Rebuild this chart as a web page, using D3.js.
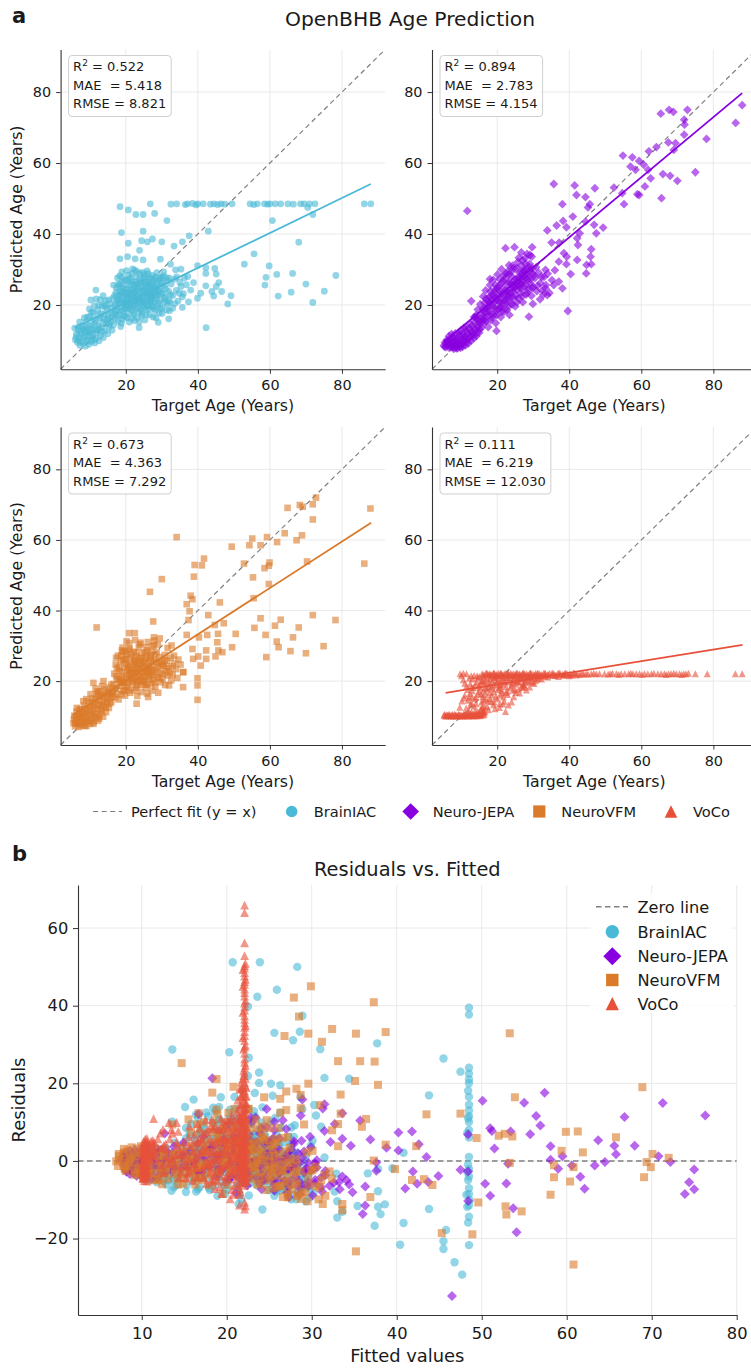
<!DOCTYPE html>
<html>
<head>
<meta charset="utf-8">
<script src="https://cdn.jsdelivr.net/npm/d3@7"></script>
<style>
body { margin: 0; background: #fff; }
svg text { font-family: "DejaVu Sans", sans-serif; fill: #1a1a1a; }
</style>
</head>
<body>
<svg id="fig" width="751" height="1368"></svg>
<script>
var modelNames = ["BrainIAC", "Neuro-JEPA", "NeuroVFM", "VoCo"];
var modelColors = ["#4ab9d6", "#8800e0", "#da7a2a", "#e8503a"];
var modelShapes = ["circle", "diamond", "square", "triangle"];

// [target age, predicted age]
var brainiac = [
  [18.4,47.7],[26.8,48.5],[32.5,48.4],[34.1,48.5],[36.5,48.3],[37.1,48.5],[38.5,48.6],[39.5,48.2],[40,48.5],[41.5,48.5],[43.5,48.4],[44.5,48.5],[45.5,48.3],[46.4,48.5],[47.5,48.4],[49.5,48.5],[54.5,48.5],[55.5,48.3],[56.5,48.5],[58.5,48.5],[59.4,48.4],[60,48.5],[61.5,48.5],[63,48.5],[65,48.5],[66.5,48.4],[68.5,48.5],[69.5,48.5],[71,48.5],[72.5,48.5],[86.2,48.5],[88,48.5],
  [20.7,46.8],[22.8,45.5],[24.8,45.5],[28,45.8],[31.4,43.8],[18.8,40.4],[24.8,40.8],[20.7,37.4],[24.4,38.1],[26,37.8],[27.4,38.6],[30,37.8],[23.8,35.4],[33.4,36.6],[35.7,37.8],[37.6,39.5],[42.9,40.8],[60.7,43.8],[70.5,47.5],[71.9,45.5],[68,37.7],[55.6,34.4],[52.9,31.5],[59.8,31],[58.9,27.8],[58.6,25.6],[61.9,28.6],[66.3,28.9],[62.3,22.5],[65.9,23.6],[70,25.9],[71.9,20.7],[75.1,23.9],[78.3,28.3],
  [39.9,31.1],[42.2,30.5],[42.2,28.9],[44.7,30.3],[45.1,28.7],[42.2,25.4],[45.8,26.3],[45.1,25.2],[43.9,23.8],[46.6,23.8],[44.4,22.5],[49.2,22.6],[48.3,20.3],[42.3,13.6],[39.9,21.9],[40.8,23.3],[38.8,26.3],[37.2,28],[35.3,30.1],[33.8,29.9],[32.4,31.5],[29.6,32.9],[22.6,33],[18.4,33],[20.5,33.6],[24.8,32.7],[35.3,25.2],[35.7,22.3],[35.7,19.3],[33,19.1],[31.9,16.1],[29,15.1],[23.7,13.6],[18.6,13.9],[11.7,24.2],[10.3,21.4]
];
var brainiacCluster = [
  [5.8,13.5],[6,10.2],[6.3,11.8],[6.6,9.4],[6.8,12.9],[7.1,10.8],[7.3,8.6],[7.6,11.9],[7.9,14.1],[8.1,9.2],[8.3,10.9],[8.6,12.6],[8.8,8.4],[9,15.3],[9.2,10.1],[9.4,13.2],[9.6,11.4],[9.8,8.9],[10,16.8],[10.1,12.3],[10.4,9.7],[10.6,14.4],[10.8,11.1],[11,17.9],[11.2,13],[11.4,9.3],[11.6,15.6],[11.8,10.6],[12,12.1],[12.2,18.6],[12.4,14.2],[12.6,9.9],[12.8,16.3],[13,11.4],[13.2,13.6],[13.4,19.7],[13.6,15.1],[13.8,10.8],[14,17.4],[14.2,12.7],[14.4,21.2],[14.6,14.6],[14.8,18.9],[15,11.9],[15.2,16.2],[15.4,13.8],[15.6,20.3],[15.8,15.4],[16,17.8],[16.2,12.9],[8.5,16.4],[7.2,15.2],[9.9,18.9],[12.9,21.5],[11.3,19.8],[13.7,22.6],[16.4,21.9],[16.6,14.4],
  [6.2,11],[6.9,10],[7.4,12.6],[7.8,9.8],[8.2,13.2],[8.7,11.3],[9.1,12.4],[9.5,10],[9.9,14.2],[10.3,11.8],[10.7,13.1],[11.1,10.2],[11.5,14.8],[11.9,12.8],[12.3,16.9],[12.7,13.4],[13.1,17.6],[13.5,12.5],[13.9,16],[14.3,19.4],[14.7,15.8],[15.1,17.2],[15.5,14.6],[15.9,19.2],[16.3,16.6],[9.3,16.6],[10.9,16.1],[12.5,19.9],[14.1,20.1],[15.3,21.4],[7,13.8],[8.9,13.7],[10.5,18],[11.8,21.7],
  [16.8,18.3],[16.9,22.7],[17.1,16.1],[17.2,20.4],[17.4,24.9],[17.5,18.8],[17.7,27.6],[17.8,15.4],[18,21.6],[18.1,19.2],[18.3,23.8],[18.4,17.1],[18.6,26.2],[18.7,20.7],[18.9,29.3],[19,15.9],[19.2,22.4],[19.3,18.2],[19.5,24.6],[19.6,20.1],[19.8,27.1],[19.9,16.8],[20,23.1],[20.2,19.4],[20.3,21.8],[20.5,25.7],[20.6,17.7],[20.8,28.4],[20.9,22.6],[21,15.2],[21.2,20.3],[21.3,24.2],[21.5,18.6],[21.6,26.8],[21.8,22.1],[21.9,30.2],[22,19.7],[22.2,23.7],[22.3,17.3],[22.5,25.3],[22.6,21.2],[22.8,27.9],[22.9,19],[23,23.2],[23.2,16.4],[23.3,21.7],[23.5,26.1],[23.6,24.3],[23.8,18.1],[23.9,28.8],[24,20.6],[24.2,22.9],[24.3,25.9],[24.5,17.6],[24.6,21.4],[24.8,24.1],[24.9,27.3],[25,19.3],[25.2,23.5],[25.3,15.8],[25.5,21.1],[25.6,26.4],[25.8,18.7],[25.9,29.6],[26,22.7],[26.2,24.9],[26.3,20.2],[26.5,27.7],[26.6,17.2],[26.8,23.1],[26.9,21.5],[27,25.6],[27.2,19.6],[27.3,28.3],[27.5,22.4],[27.6,16.6],[27.8,24.4],[27.9,20.9],[28,26.9],[28.2,18.4],[28.3,23.6],[28.5,21.7],[28.6,29.1],[28.8,25.2],[28.9,19.9],[29,22.9],[29.2,27.2],[29.3,17.8],[29.5,24.8],[29.6,21.3],[29.8,26.1],[30,19.1],[30.2,23.4],[30.4,28.2],[30.6,20.7],[30.8,25.4],[31,22.2],[31.3,18.6],[31.6,26.8],[31.9,23.8],[32.2,20.8],[32.6,25.9],[33,22.6],[33.5,27.3],[34,24.1],[34.5,21.1],[35,26.4],[36,23.2],[36.8,25.7],[38,24.2],[37.4,20.9],
  [19.4,21.3],[20.1,24.4],[20.7,20.9],[21.4,22.9],[22.1,25.8],[22.7,23.9],[23.4,20.4],[24.1,26.7],[24.7,19.8],[25.4,24.6],[26.1,21.9],[26.7,25.3],[27.4,23.3],[18.2,25.4],[19.1,27.8],[21.1,27.4],[23.1,29.4],[25.1,28.6],[27.1,27.2],[29.9,27.6],[17.6,22.2],[16.6,25.6],[18.8,14.9],[20.4,16.4],[22.4,15.6],[24.4,16.9],[26.4,18.9],[28.4,16.4],[30.1,17.6],[32.1,18.4],[33.6,20.4],[34.8,23.3],[36.2,27.6],[34.1,27.9],
  [17,19.9],[17.3,23.6],[17.6,17.1],[17.9,25.8],[18.2,20.6],[18.5,22.6],[18.8,18.5],[19.1,24.8],[19.4,26.6],[19.7,18.9],[20,21],[20.3,23.4],[20.6,27],[20.9,19.1],[21.2,25.6],[21.5,21.5],[21.8,24.4],[22.1,17.9],[22.4,20.4],[22.7,26.6],[23,24.8],[23.3,19.3],[23.6,22.1],[23.9,27.4],[24.2,18.6],[24.5,25],[24.8,22.3],[25.1,20.4],[25.4,27.9],[25.7,23],[26,19.8],[26.3,26.5],[26.6,24.2],[26.9,20.7],[27.2,22.6],[27.5,26.4],[27.8,18.9],[28.1,24.9],[28.4,22.5],[28.7,26.4],[29,20.6],[29.3,24],[29.6,27.8],[29.9,23.1],[30.3,26.2],[30.7,21.9],[31.1,24.5],[31.5,20.3],[32,27.6],[32.4,22.9],[16.9,17.4],[17.7,21.3],[18.6,23.1],[19.5,20.6],[20.4,22.6],[21.3,19.6],[22.2,22.8],[23.1,21.1],[24,23.8],[24.9,21.1],[25.8,25.6],[26.7,22.1],[27.6,25],[28.5,23.4],[21,23.6],[22,20.9],[23,25.9],[24,21.9],[25,26.3],[26,23.8],[27,21.2],[28,24.3],[19,23.7],[20,19.9],[21.7,28.8],[22.5,29.8],[24.6,29.2],[26.2,28.8],[28.2,27.9],[18.3,28.2],[20.2,29.7],[30.5,29.3],[31.3,27.6],[19.3,16.8],[21.7,16.2],[23.7,15.2],[25.7,17.3],[27.7,19.7],[29.5,19.1],[31.8,21.2]
];

var neuroJepa = [
  [11.7,46.5],[35.7,54.1],[41.5,53.7],[47.1,52.9],[42,51],[44.5,50.4],[38.1,48.4],[45.7,48.4],[52.4,53.1],[54.7,51.5],[55.2,48.4],[58.9,51.2],[59.4,51],[65.6,50.1],[70,55],[68,56.4],[66,56.9],[75,57.4],[54.9,62.1],[57.5,61.6],[59.4,60.6],[60.7,59.5],[57,59],[58.4,58.1],[61.9,58.1],[62.6,55.7],[62.1,63.3],[64.2,64.5],[67.5,65.8],[69.5,65.6],[69,63.7],[71.9,68],[72,70.8],[71.9,72.2],[65.4,73.9],[67.7,75],[68.9,74.4],[72.8,75],[78.1,66.8],[86.2,71.3],[88,76.3],[61,53.4],
  [33.9,41],[36.5,42.4],[38.3,43.7],[39.2,41.9],[41,44.9],[42.2,38.8],[42.9,40.2],[45.2,47.5],[44.5,43.5],[46.9,42.6],[47.5,40.2],[49.4,41.8],[35.1,37.6],[37.2,37.6],[42.4,36.9],[46.1,35.7],[45.9,33.6],[44.8,31.3],[46.1,31.5],[44.7,28.9],[42.2,32.7],[40.4,28.7],[39.6,18.3],[22.3,36],[24.8,36.3],[29.7,36.3],[29.1,34.1],[26.7,34.8],[37.1,32.2],[39.3,33.6],[39.2,31.5],[38.5,34.6],[37.1,26.6],[35.7,25.6],[38.1,24.7],[33.9,22.8],[33.4,24.7],[28.8,16.7],[19.8,12.7],[23.4,17.2],[18,27.3],[12.8,21.1]
];
var neuroJepaCluster = [
  [5.2,8.6],[5.5,9.4],[5.8,8.1],[6,10.1],[6.2,8.8],[6.5,9.6],[6.7,7.9],[7,10.4],[7.2,8.5],[7.5,9.2],[7.7,11],[8,8.1],[8.2,9.8],[8.5,8.7],[8.7,10.6],[9,7.8],[9.2,9.3],[9.5,11.4],[9.7,8.4],[10,10.2],[10.2,8.9],[10.5,12],[10.7,9.7],[11,11.1],[11.2,8.6],[11.5,12.6],[11.7,10.4],[12,9.2],[12.2,13.4],[12.5,11.3],[12.7,9.9],[13,14.2],[13.2,12.1],[13.5,10.6],[13.7,15.3],[14,12.9],[14.2,11.2],[14.5,16.1],[14.7,13.8],[15,12.2],[8.4,12],[7.3,11.8],[10.8,13.6],[9.9,12.8],
  [5.4,8.2],[5.9,9],[6.3,9.9],[6.8,8.4],[7.1,9.4],[7.6,8.2],[7.9,10.6],[8.3,9.1],[8.8,8.3],[9.1,10.1],[9.6,9.1],[10.1,11.3],[10.4,8.2],[10.9,10.3],[11.4,9.5],[11.8,11.9],[12.3,10.6],[12.8,12.6],[13.3,11.5],[13.8,13.4],[14.3,12],[14.8,14.9],[15.2,13.1],[15.7,15.1],[16.2,16.2],[6.6,11.2],[9.3,12.3],[11.3,13.7],[12.6,14.6],[13.9,16.6],[8.6,7.8],[9.8,7.9],[7.9,7.6],
  [14.6,18.7],[15,15.4],[15.3,20.2],[15.6,13.6],[15.9,17.3],[16.1,22.4],[16.3,14.9],[16.6,19.1],[16.8,24.1],[17,16.4],[17.3,21.2],[17.5,13.8],[17.7,18.3],[18,25.6],[18.2,15.7],[18.4,22.7],[18.7,19.9],[18.9,27.1],[19.1,17.2],[19.4,24.3],[19.6,14.9],[19.8,21.4],[20.1,28.6],[20.3,18.8],[20.5,25.4],[20.8,22.9],[21,16.6],[21.2,30.1],[21.5,20.4],[21.7,26.8],[21.9,18.1],[22.2,24.1],[22.4,28.9],[22.6,21.6],[22.9,19.4],[23.1,26.2],[23.3,31.2],[23.6,23.4],[23.8,20.7],[24,28.1],[24.3,25.2],[24.5,22.2],[24.7,30.4],[25,19.6],[25.2,27.3],[25.4,24.3],[25.7,32.1],[25.9,21.9],[26.1,29.1],[26.4,26.1],[26.6,23.4],[26.8,31.1],[27.1,20.8],[27.3,28.1],[27.5,25.1],[27.8,33.2],[28,22.9],[28.2,30.2],[28.5,27.2],[28.7,24.4],[29,31.6],[29.2,26.1],[29.5,22.6],[29.7,28.9],[30,25.1],[30.5,27.6],[31,23.9],[31.5,29.1],[32,26.2],[32.5,24.1],[33,27.9],[33.5,25.6],[34,28.8],[34.5,23.4],[35.2,27],[36,29.8],
  [17.9,20.6],[19.3,19.1],[20.6,20.6],[21.4,23.1],[22.8,23.9],[23.9,25.9],[25.3,26.4],[26.2,27.6],[27.4,29.4],[19,22.6],[20,24.6],[21.1,26.1],[22.1,27.4],[23.2,28.5],[24.1,29.6],[15.5,16.3],[16.4,17.9],[17.6,19.6],[18.5,21.2],[19.7,22.1],[20.9,19.3],[22,21.3],[23,22.4],[24.2,23.8],[25.1,25.1],[26.3,25.4],[27.2,26.6],[28.1,28.6],[29.1,29.6],[16.9,21.8],[18.1,23.9],[14.2,17.1],[13.6,16.6],[28.3,34.4],[27,32.6],[26,33.3],[29.6,33.6],[30.8,30.6],[29.9,20.3],[31.9,21.6],[32.8,22.9],
  [16,18.8],[16.5,20.6],[16.9,15.4],[17.4,19.1],[17.8,22.3],[18.3,17.4],[18.8,20.5],[19.2,23.5],[19.7,18.4],[20.2,21.3],[20.6,24.1],[21.1,19.6],[21.5,22.1],[22,25],[22.5,20.6],[22.9,23.1],[23.4,26.3],[23.8,22.1],[24.3,24.6],[24.8,27.1],[25.2,22.7],[25.7,25.6],[26.1,28],[26.6,24.6],[27.1,26.9],[27.5,29.9],[28,25.7],[28.4,27.9],[28.9,30.6],[29.3,27.2],[29.8,30.4],[30.3,28.4],[19.5,25.6],[20.7,27.3],[21.9,28.4],[23.1,29.6],[24.3,31.1],[25.5,30.4],[26.9,29.2],[17.2,17.6],[18.6,16.4],[19.9,17.2],[21.3,18.1],[22.7,18.6],[24.1,20.1],[25.5,20.8],[26.9,22.4],[28.3,23.5],[29.7,24.8],[31.2,25.4],[32.3,27.9],[33.4,29.9],[27.9,31.6]
];

var neuroVfm = [
  [34.1,60.8],[26.7,45.3],[30,48.9],[11.9,35.2],[27.6,36.9],[38.9,49.6],[39.1,52.9],[41.1,52.8],[41.7,54.7],[38,44.2],[38.5,43.2],[36.9,41.8],[37.7,39.8],[37.4,37.3],[42.9,38.7],[46.1,42.3],[49.4,58.1],[54.3,58.5],[55.1,60.4],[57.4,58.5],[59.2,60.8],[62,59.4],[64.1,61.9],[64.9,69.1],[68.3,69.9],[69.1,69.4],[71.9,70.1],[72.8,72],[71.9,65.8],[68.9,61.3],[67.4,59.9],[87.9,68.9],[86.2,53.3],[70.3,53.9],[59.9,53.6],[59.7,52.7],[58.5,52],[52.8,53.3],[55.3,49.4],[59.7,47.5],[55.5,43.5],
  [44.7,35.9],[47.2,36.4],[42.6,33.1],[45.6,33.4],[45.4,31],[45.7,28.7],[46.8,28.2],[44.9,27],[49.5,29.6],[50.5,33.4],[42.3,28.7],[42.3,26.3],[40.3,32.4],[40.1,27],[39.9,20.8],[39.9,18.8],[39.9,14.7],[36.9,33.1],[38.5,29.1],[35.9,22.5],[35.9,18.3],[40.8,24.4],[38.7,26.3],[57.4,37.8],[55.7,35.1],[58.8,33.1],[61.4,35.7],[63,37.4],[61.9,31.2],[62.4,29.6],[59,26.8],[65.7,28.5],[66.4,32.4],[68,35.2],[70,27.9],[71.9,38.7],[74.9,29.9],[78.2,37.3],
  [32.7,30.1],[33.4,27.2],[30.2,24.9],[31.5,21.6],[32,18.8],[29.7,19.7],[29,16.7],[26.2,15.5],[23,13.6],[20.9,33.6],[22.5,33.6],[20.9,30.8],[18.9,28.7],[23.9,30.4],[27.8,32.4],[27.8,30.1],[11,19.5],[13.8,20],[12.2,17.1],[16,19]
];
var neuroVfmCluster = [
  [5.5,8.1],[5.7,10.2],[5.9,7.2],[6.1,9.1],[6.3,11.3],[6.5,7.9],[6.7,9.8],[6.9,7],[7.1,10.7],[7.3,8.5],[7.5,12.1],[7.7,7.4],[7.9,9.6],[8.1,11.2],[8.3,7.8],[8.5,13.1],[8.7,9.2],[8.9,10.8],[9.1,7.3],[9.3,12.3],[9.5,8.6],[9.7,14.2],[9.9,10.4],[10.1,7.9],[10.3,11.8],[10.5,9.3],[10.7,15.1],[10.9,12.9],[11.1,8.4],[11.3,10.9],[11.5,13.9],[11.7,9.7],[11.9,16.2],[12.1,12.1],[12.3,8.8],[12.5,14.6],[12.7,10.6],[12.9,17.1],[13.1,13.2],[13.3,11.4],[13.5,15.7],[13.7,9.9],[13.9,12.6],[14.1,17.7],[14.3,14.3],[14.5,11.2],[14.7,16.5],[14.9,13.5],[15.1,18.2],[15.3,12.4],[15.5,15.2],[15.7,17],[16,14.1],[16.3,16.4],[8.2,14.3],[6.4,12.4],[10.2,16.3],[11.6,17.9],[13.4,18.6],
  [5.6,9.2],[6,8],[6.4,10],[6.8,8.2],[7.2,9.4],[7.6,10.9],[8,8.4],[8.4,10.2],[8.8,12],[9.2,8.7],[9.6,10.9],[10,12.9],[10.4,8.9],[10.8,10.6],[11.2,12.4],[11.6,14.9],[12,10.1],[12.4,13.3],[12.8,15.8],[13.2,11.9],[13.6,14.1],[14,16.1],[14.4,12.6],[14.8,15.3],[15.2,16.9],[15.6,13.7],[16.1,15.6],[9,14.9],[10.6,13.9],[12.2,16.6],[7,11.9],[8.6,7.3],[11,7.9],[12.6,9.4],
  [16.6,19.2],[16.8,22.1],[17,15.4],[17.2,24.7],[17.4,17.8],[17.6,20.6],[17.8,27.2],[18,14.8],[18.2,22.9],[18.4,18.7],[18.6,25.6],[18.8,16.3],[19,21.2],[19.2,28.3],[19.4,19.5],[19.6,23.8],[19.8,15.9],[20,26.4],[20.2,21.7],[20.4,18.1],[20.6,24.6],[20.8,28.9],[21,20.2],[21.2,16.7],[21.4,23.1],[21.6,26.8],[21.8,19.2],[22,22],[22.2,28.3],[22.4,17.4],[22.6,24.9],[22.8,20.8],[23,27.1],[23.2,18.9],[23.4,23.4],[23.6,29.6],[23.8,21.3],[24,25.7],[24.2,16.9],[24.4,22.8],[24.6,27.9],[24.8,19.8],[25,24.1],[25.2,21],[25.4,26.3],[25.6,18.2],[25.8,23.2],[26,28.7],[26.2,20.6],[26.4,25],[26.6,22.4],[26.8,27.3],[27,19.3],[27.2,24.2],[27.4,29.9],[27.6,21.8],[27.8,26.1],[28,23.3],[28.2,18.4],[28.4,25.4],[28.6,28.2],[28.8,21.1],[29,23.9],[29.3,26.8],[29.6,22.3],[29.9,25.6],[30.2,20.5],[30.5,24.4],[30.8,27.4],[31.1,22.8],[31.5,25.8],[32,23.6],[32.5,26.6],[33,21.9],[33.5,25],[34,23.4],[34.6,26.1],[35.2,24.7],[36,22.6],
  [19.3,25.9],[20.3,27.7],[21.3,25.3],[22.3,26.1],[23.3,25.3],[24.3,26.6],[25.3,28.1],[19.5,17.3],[20.5,19.6],[21.5,21.1],[22.5,22.4],[23.5,20.1],[24.5,21.3],[25.5,22.6],[26.5,23.6],[17.5,23.6],[18.5,20.7],[20.9,22.6],[22.9,23.6],[24.9,25.1],[26.9,25.6],[21.1,29.2],[19.1,29.5],[17.3,26.6],[16.4,17.2],[24.1,30.9],[26.1,31.1],[20.2,31.3],[22.6,31.6],[27.9,31.5],[28.9,30.4],[23.2,15.8],[25.9,16.5],[27.3,17.3],[30.9,18.9],[32.6,20.2],[34.3,20.9],[31.6,29.4],[29.4,32.1],
  [16.9,18],[17.3,21.4],[17.7,16.2],[18.1,24],[18.5,19.8],[18.9,22.6],[19.3,17.2],[19.7,26.2],[20.1,20.7],[20.5,23.3],[20.9,17.4],[21.3,27.4],[21.7,22.5],[22.1,19.9],[22.5,25.5],[22.9,18.1],[23.3,22.1],[23.7,26.4],[24.1,20.2],[24.5,24.3],[24.9,22.2],[25.3,19],[25.7,27.1],[26.1,24],[26.5,21.3],[26.9,26.6],[27.3,23],[27.7,20.3],[28.1,27.5],[28.5,22.6],[28.9,25.1],[29.3,20.9],[29.8,24.3],[30.3,22.1],[30.8,25.9],[31.4,24.1],[32.2,22.3],[33,24.2],[20,25],[21,24],[22,23.4],[23,24.5],[24,23.6],[25,25.6],[26,22.7],[27,28.2],[19,19.6],[20,18.5],[21,21.9],[22,21],[23,20],[24,18.9],[25,20.1],[26,19],[27,21.6],[28,19.6],[18,20.4],[19.8,28.4],[22.8,28.1],[25.6,29.6],[18.7,27.2]
];

var voco = [
  [9.7,22.1],[10.6,22.2],[11.5,22.1],[10.1,21.5],
  [15.8,22.1],[16.3,21.9],[16.9,22.2],[17.4,22],[17.9,22.1],[18.4,21.8],[18.9,22.2],[19.3,22.1],[19.8,21.9],[20.3,22.2],[20.8,22],[21.2,22.1],[21.7,21.8],[22.2,22.2],[22.7,22.1],[23.2,21.9],[23.7,22.2],[24.1,22],[24.6,22.1],[25.1,21.8],[25.6,22.2],[26.1,22.1],[26.6,21.9],[27.1,22.2],[27.6,22],[28.1,22.1],[28.6,21.8],[29.1,22.2],[29.6,22.1],[30.1,21.9],[30.7,22.2],[31.2,22],[31.8,22.1],[32.3,21.8],[32.9,22.2],[33.4,22.1],[34,21.9],[34.5,22.2],[35.1,22],[35.7,22.1],[36.3,21.8],[36.9,22.2],[37.5,22.1],[38.1,21.9],[38.8,22.2],[39.4,22],[40.1,22.1],[40.8,21.8],[41.5,22.2],[42.3,22.1],[43,21.9],
  [16,21.6],[17.1,22.3],[18.2,21.7],[19.1,22.3],[20.1,21.6],[21,22.3],[22,21.7],[22.9,22.3],[24.2,21.6],[25.3,22.3],[26.2,21.7],[27.3,22.3],[28.3,21.6],[29.2,22.3],[30.4,21.7],[31.3,22.3],[32.1,21.6],[33.2,22.3],[34.2,21.7],[35.4,22.3],[36.1,21.6],[37.2,22.3],[38.4,21.7],[39.1,22.3],[40.3,21.7],[41.2,22.3],[42,21.7],[43.5,22.2],
  [44.7,22.1],[46.1,22.1],[47.5,22.1],[48.4,22.1],[49.8,22.1],[53.1,22.1],[54.4,22.1],[55.4,22.1],[56.5,22.1],[57.7,22.1],[58.6,22.1],[59.5,22.1],[60.9,22.1],[61.8,22.1],[62.8,22.1],[64.6,22.1],[65.5,22.1],[66.4,22.1],[67.6,22.1],[68.3,22.1],[69.7,22.1],[70.6,22.1],[71.8,22.1],[72.4,22.1],[75,22.1],[78.3,22.1],[86.1,22.1],[88,22.1],
  [45.2,22],[46.8,22.2],[50.8,22],[52,22.2],[53.7,21.9],[57.1,22.2],[60.2,21.9],[63.5,22.2],[66.9,21.9],[69,22.2],[71.2,21.9],[73.1,22.2],[51.4,22.1],[44,22]
];
var vocoCluster = [
  [5.2,10.3],[5.6,10.1],[6,10.5],[6.4,10.2],[6.8,10.4],[7.2,10.1],[7.6,10.6],[8,10.2],[8.4,10.4],[8.8,10.1],[9.2,10.5],[9.6,10.2],[10,10.4],[10.4,10.1],[10.8,10.6],[11.2,10.2],[11.6,10.4],[12,10.1],[12.4,10.5],[12.8,10.2],[13.2,10.4],[13.6,10.1],[14,10.6],[14.4,10.3],[14.8,10.5],[15.2,10.2],[15.6,10.7],[16,10.4],[16.4,10.6],[14.6,11.4],[15.4,11.9],[16.2,11.5],
  [5.4,10.6],[5.8,10.2],[6.2,10.3],[6.6,10.6],[7,10.2],[7.4,10.4],[7.8,10.1],[8.2,10.6],[8.6,10.3],[9,10.2],[9.4,10.6],[9.8,10.3],[10.2,10.1],[10.6,10.5],[11,10.3],[11.4,10.7],[11.8,10.2],[12.2,10.4],[12.6,10.7],[13,10.3],[13.4,10.6],[13.8,10.4],[14.2,10.2],[14.6,10.6],[15,10.9],[15.4,10.4],[15.8,11.3],[16.2,11.1],[16.6,11.3],[13.9,11.5],[12.9,11.2],[11.9,11],[15.8,12.4],
  [10.6,20.4],[11,19.4],[12.9,18.3],[14.7,16.4],[13.8,15],[12.7,13.3],[15.7,14.1],[16.6,12.6],[18,15],[19.4,12.2],[20.7,13.6],[21.4,16.6],[22.3,11.4],[24,14.1],[26,17.8],[27.2,19.2],[29,18.3],[24.4,17.4],[17,17.8],
  [10.2,14.4],[11,16],[11.8,17.6],[12.5,19.2],[13.2,20.6],[13.9,18.9],[14.6,20.9],[15.2,18.1],[15.9,19.9],[16.4,21.1],[16.9,16.3],[17.5,19.4],[18.1,20.6],[18.7,17.9],[19.2,21],[19.8,19.1],[20.4,20.4],[21,18.6],[21.6,21.1],[22.2,19.7],[22.8,17.1],[23.4,20.8],[24.1,19.4],[24.8,21.2],[25.5,20.1],[26.3,21.4],[27,20.6],[27.8,21.3],[28.6,20.1],[29.5,21.2],[30.5,21.6],[31.5,20.9],[32.5,21.5],[34,21.2],[35.5,21.6],[37,21.3],[38.5,21.7],[40,21.5],[13,15.6],[14.2,13.6],[15.5,16.2],[16.2,14.6],[17.2,12.8],[18.3,14.2],[19.6,15.6],[20.8,16.1],[21.9,14.3],[23.1,13.2],[25.2,16.8],[26.8,18.4],[28.1,17.5],[30.2,19.3],[11.4,12.4],[12.1,11.6],[9.6,12.6],[12.8,13.9],
  [12.2,20.8],[12.8,21.5],[13.6,21.6],[14.3,19.7],[15,21.3],[15.6,20.2],[16.1,17.4],[16.6,19.2],[17.2,20.7],[17.7,18.3],[18.2,21.4],[18.6,19.8],[19.1,17],[19.6,20.3],[20.1,21.5],[20.5,18.1],[21,20.4],[21.5,19.1],[22,21.2],[22.5,18.4],[23,19.9],[23.5,21.6],[24,18.8],[24.5,20.6],[25,19.2],[25.6,21.1],[26.1,19.7],[26.7,20.8],[27.3,19],[27.9,20.4],[28.5,21.5],[29.1,19.8],[29.8,20.8],[30.6,20.1],[31.4,21.3],[32.3,20.6],[33.3,21.4],[13.1,17.3],[14.9,18.6],[16.8,14.9],[17.9,16.8],[19.1,14.1],[20.3,17.6],[21.7,15.5],[22.9,16.2],[24.6,15.6],[26.2,16.6],[27.6,18.6],[15.9,12.9],[17.6,11.9],[19,13.3],[20.6,12.5],[21.6,13.5],[13.6,12.9],[11.9,14.6],[10.8,15.2],
  [12.4,16.5],[13.4,18.2],[14.1,15.4],[14.9,17.1],[15.4,19.3],[16,15.6],[16.7,18.1],[17.4,14.4],[18,19.2],[18.5,16.1],[19,18.6],[19.5,21.2],[20,15],[20.6,19.1],[21.2,17.4],[21.8,20.1],[22.4,16.8],[23,21],[23.7,18.1],[24.3,20],[25,17.6],[25.7,19.8],[26.4,21],[27.1,18.2],[27.8,19.6],[28.8,21],[29.8,19.7],[31,20.5],[17.9,21.8],[19.7,21.6],[21.3,21.7],[23.2,21.7],[25,21.7],[26.9,21.7],[11.5,18.6],[12.2,15.4],[14.4,21.5],[16.5,20.1]
];

var modelData = [
  brainiac.concat(brainiacCluster),
  neuroJepa.concat(neuroJepaCluster),
  neuroVfm.concat(neuroVfmCluster),
  voco.concat(vocoCluster)
];

// regression line end points
var fitLines = [
  [[5.8, 13.6], [88, 54.1]],
  [[5.2, 9.6], [88, 79.7]],
  [[5.2, 10.3], [88.1, 64.9]],
  [[5.7, 16.7], [88.1, 30.3]]
];
var statR2 = ["0.522", "0.894", "0.673", "0.111"];
var statMae = ["5.418", "2.783", "4.363", "6.219"];
var statRmse = ["8.821", "4.154", "7.292", "12.030"];

var ageDomain = [1.9, 92];
var ageTicks = [20, 40, 60, 80];
var fittedDomain = [2.5, 80];
var fittedTicks = [10, 20, 30, 40, 50, 60, 70, 80];
var residualDomain = [-39.7, 71.1];
var residualTicks = [-20, 0, 20, 40, 60];

var svg = d3.select("#fig");
var gridColor = "#e6e6e6";
var spineColor = "#333";

function markerPath(shape, s) {
  if (shape === "circle") return d3.symbol(d3.symbolCircle, Math.PI * s * s)();
  if (shape === "diamond") return "M0," + (-s) + "L" + s + ",0L0," + s + "L" + (-s) + ",0Z";
  if (shape === "square") return "M" + (-s) + "," + (-s) + "h" + (2 * s) + "v" + (2 * s) + "h" + (-2 * s) + "Z";
  return "M0," + (-s) + "L" + s + "," + s + "L" + (-s) + "," + s + "Z";
}
var smallSize = { circle: 3.4, diamond: 4.4, square: 3.3, triangle: 3.5 };
var residSize = { circle: 4.2, diamond: 5, square: 4, triangle: 4.4 };

function styleAxis(g, fontSize) {
  g.select(".domain").attr("stroke", spineColor).attr("stroke-width", 1.1);
  g.selectAll(".tick line").attr("stroke", spineColor).attr("stroke-width", 1);
  g.selectAll(".tick text").attr("font-size", fontSize).attr("fill", "#1a1a1a")
    .attr("font-family", "DejaVu Sans");
}

var cols = [[60.6, 385.2], [432, 756.6]];
var rows = [[369.2, 49.5], [745, 427]];

function agePanel(i) {
  var c = cols[i % 2], r = rows[Math.floor(i / 2)];
  var x = d3.scaleLinear().domain(ageDomain).range(c);
  var y = d3.scaleLinear().domain(ageDomain).range(r);
  var g = svg.append("g");

  g.selectAll("line.gx").data(ageTicks).enter().append("line")
    .attr("x1", d => x(d)).attr("x2", d => x(d)).attr("y1", r[0]).attr("y2", r[1])
    .attr("stroke", gridColor).attr("stroke-width", 0.9);
  g.selectAll("line.gy").data(ageTicks).enter().append("line")
    .attr("y1", d => y(d)).attr("y2", d => y(d)).attr("x1", c[0]).attr("x2", c[1])
    .attr("stroke", gridColor).attr("stroke-width", 0.9);

  g.append("line")
    .attr("x1", x(ageDomain[0])).attr("y1", y(ageDomain[0]))
    .attr("x2", x(ageDomain[1])).attr("y2", y(ageDomain[1]))
    .attr("stroke", "#808080").attr("stroke-width", 1.2).attr("stroke-dasharray", "5,3.6");

  g.append("path")
    .attr("d", d3.line().x(d => x(d[0])).y(d => y(d[1]))(fitLines[i]))
    .attr("stroke", modelColors[i]).attr("stroke-width", 1.8).attr("fill", "none");

  g.selectAll("path.pt").data(modelData[i]).enter().append("path")
    .attr("d", markerPath(modelShapes[i], smallSize[modelShapes[i]]))
    .attr("transform", d => "translate(" + x(d[0]) + "," + y(d[1]) + ")")
    .attr("fill", modelColors[i]).attr("fill-opacity", 0.6);

  var ax = g.append("g").attr("transform", "translate(0," + r[0] + ")")
    .call(d3.axisBottom(x).tickValues(ageTicks).tickSize(4.5).tickPadding(6.3).tickSizeOuter(0));
  styleAxis(ax, 14.4);
  var ay = g.append("g").attr("transform", "translate(" + c[0] + ",0)")
    .call(d3.axisLeft(y).tickValues(ageTicks).tickSize(4.5).tickPadding(5).tickSizeOuter(0));
  styleAxis(ay, 14.4);

  g.append("text").attr("x", (c[0] + c[1]) / 2).attr("y", r[0] + 41.5)
    .attr("text-anchor", "middle").attr("font-size", 15.7).text("Target Age (Years)");
  if (i % 2 === 0) {
    g.append("text").attr("transform", "translate(22," + (r[0] + r[1]) / 2 + ") rotate(-90)")
      .attr("text-anchor", "middle").attr("font-size", 15.7).text("Predicted Age (Years)");
  }

  // stats box
  var bx = c[0] + 8, by = r[1] + 6;
  var box = g.append("rect").attr("x", bx).attr("y", by).attr("height", 61).attr("rx", 3.5)
    .attr("fill", "#fff").attr("fill-opacity", 0.85).attr("stroke", "#cfcfcf").attr("stroke-width", 1);
  var t1 = g.append("text").attr("x", bx + 4.5).attr("y", by + 15.5).attr("font-size", 13);
  t1.append("tspan").text("R");
  t1.append("tspan").attr("font-size", 9).attr("dy", -5).text("2");
  t1.append("tspan").attr("dy", 5).style("white-space", "pre").text(" = " + statR2[i]);
  var t2 = g.append("text").attr("x", bx + 4.5).attr("y", by + 34.2).attr("font-size", 13)
    .style("white-space", "pre").text("MAE  = " + statMae[i]);
  var t3 = g.append("text").attr("x", bx + 4.5).attr("y", by + 52.8).attr("font-size", 13)
    .text("RMSE = " + statRmse[i]);
  var w = Math.max(t1.node().getBBox().width, t2.node().getBBox().width, t3.node().getBBox().width);
  box.attr("width", w + 9.5);
}

for (var i = 0; i < 4; i++) agePanel(i);

svg.append("text").attr("x", 12).attr("y", 23).attr("font-size", 21).attr("font-weight", "bold").text("a");
svg.append("text").attr("x", 410).attr("y", 26).attr("text-anchor", "middle").attr("font-size", 20.3)
  .text("OpenBHB Age Prediction");

// legend for panel a
var legY = 811.5;
var legA = svg.append("g");
legA.append("line").attr("x1", 93).attr("x2", 122).attr("y1", legY).attr("y2", legY)
  .attr("stroke", "#808080").attr("stroke-width", 1.2).attr("stroke-dasharray", "5,3.6");
legA.append("text").attr("x", 131).attr("y", legY + 5.3).attr("font-size", 14.6).text("Perfect fit (y = x)");
var legAx = [291.7, 410.7, 539.3, 671];
var legAsize = { circle: 5.8, diamond: 8.3, square: 6.1, triangle: 6.3 };
modelNames.forEach(function (name, k) {
  legA.append("path").attr("d", markerPath(modelShapes[k], legAsize[modelShapes[k]]))
    .attr("transform", "translate(" + legAx[k] + "," + legY + ")").attr("fill", modelColors[k]);
  legA.append("text").attr("x", legAx[k] + 22).attr("y", legY + 5.3).attr("font-size", 14.6).text(name);
});

// residuals vs fitted
var bx0 = 78, bx1 = 736.7, byTop = 885, byBot = 1315;
var xr = d3.scaleLinear().domain(fittedDomain).range([bx0, bx1]);
var yr = d3.scaleLinear().domain(residualDomain).range([byBot, byTop]);
var gb = svg.append("g");
gb.selectAll("line.gx").data(fittedTicks).enter().append("line")
  .attr("x1", d => xr(d)).attr("x2", d => xr(d)).attr("y1", byBot).attr("y2", byTop)
  .attr("stroke", gridColor).attr("stroke-width", 0.9);
gb.selectAll("line.gy").data(residualTicks).enter().append("line")
  .attr("y1", d => yr(d)).attr("y2", d => yr(d)).attr("x1", bx0).attr("x2", bx1)
  .attr("stroke", gridColor).attr("stroke-width", 0.9);
gb.append("line").attr("x1", bx0).attr("x2", bx1).attr("y1", yr(0)).attr("y2", yr(0))
  .attr("stroke", "#808080").attr("stroke-width", 1.5).attr("stroke-dasharray", "5.5,3.5");

// residual = target - predicted, fitted = predicted
modelData.forEach(function (data, k) {
  gb.selectAll("path.m" + k).data(data).enter().append("path")
    .attr("d", markerPath(modelShapes[k], residSize[modelShapes[k]]))
    .attr("transform", d => "translate(" + xr(d[1]) + "," + yr(d[0] - d[1]) + ")")
    .attr("fill", modelColors[k]).attr("fill-opacity", 0.6);
});

var axb = gb.append("g").attr("transform", "translate(0," + byBot + ")")
  .call(d3.axisBottom(xr).tickValues(fittedTicks).tickSize(5).tickPadding(7).tickSizeOuter(0));
styleAxis(axb, 16.3);
var ayb = gb.append("g").attr("transform", "translate(" + bx0 + ",0)")
  .call(d3.axisLeft(yr).tickValues(residualTicks).tickSize(5).tickPadding(4.7).tickSizeOuter(0)
    .tickFormat(d => d < 0 ? "\u2212" + Math.abs(d) : d));
styleAxis(ayb, 16.3);

gb.append("text").attr("x", (bx0 + bx1) / 2).attr("y", 1362).attr("text-anchor", "middle")
  .attr("font-size", 17.9).text("Fitted values");
gb.append("text").attr("transform", "translate(25," + (byTop + byBot) / 2 + ") rotate(-90)")
  .attr("text-anchor", "middle").attr("font-size", 17.9).text("Residuals");
gb.append("text").attr("x", (bx0 + bx1) / 2).attr("y", 876).attr("text-anchor", "middle")
  .attr("font-size", 19.4).text("Residuals vs. Fitted");
svg.append("text").attr("x", 12).attr("y", 861).attr("font-size", 21).attr("font-weight", "bold").text("b");

// legend for panel b
var legB = gb.append("g");
legB.append("rect").attr("x", 590).attr("y", 893).attr("width", 144).attr("height", 120).attr("rx", 3)
  .attr("fill", "#fff").attr("fill-opacity", 0.8);
var legBy = [906.7, 931.7, 956.3, 980, 1003.6];
var legBsize = { circle: 6.7, diamond: 9, square: 6.2, triangle: 6.6 };
legB.append("line").attr("x1", 596).attr("x2", 628).attr("y1", legBy[0]).attr("y2", legBy[0])
  .attr("stroke", "#808080").attr("stroke-width", 1.5).attr("stroke-dasharray", "5.5,3.5");
legB.append("text").attr("x", 637.5).attr("y", legBy[0] + 6).attr("font-size", 16.2).text("Zero line");
modelNames.forEach(function (name, k) {
  legB.append("path").attr("d", markerPath(modelShapes[k], legBsize[modelShapes[k]]))
    .attr("transform", "translate(612.3," + legBy[k + 1] + ")").attr("fill", modelColors[k]);
  legB.append("text").attr("x", 637.5).attr("y", legBy[k + 1] + 6).attr("font-size", 16.2).text(name);
});
</script>
</body>
</html>
